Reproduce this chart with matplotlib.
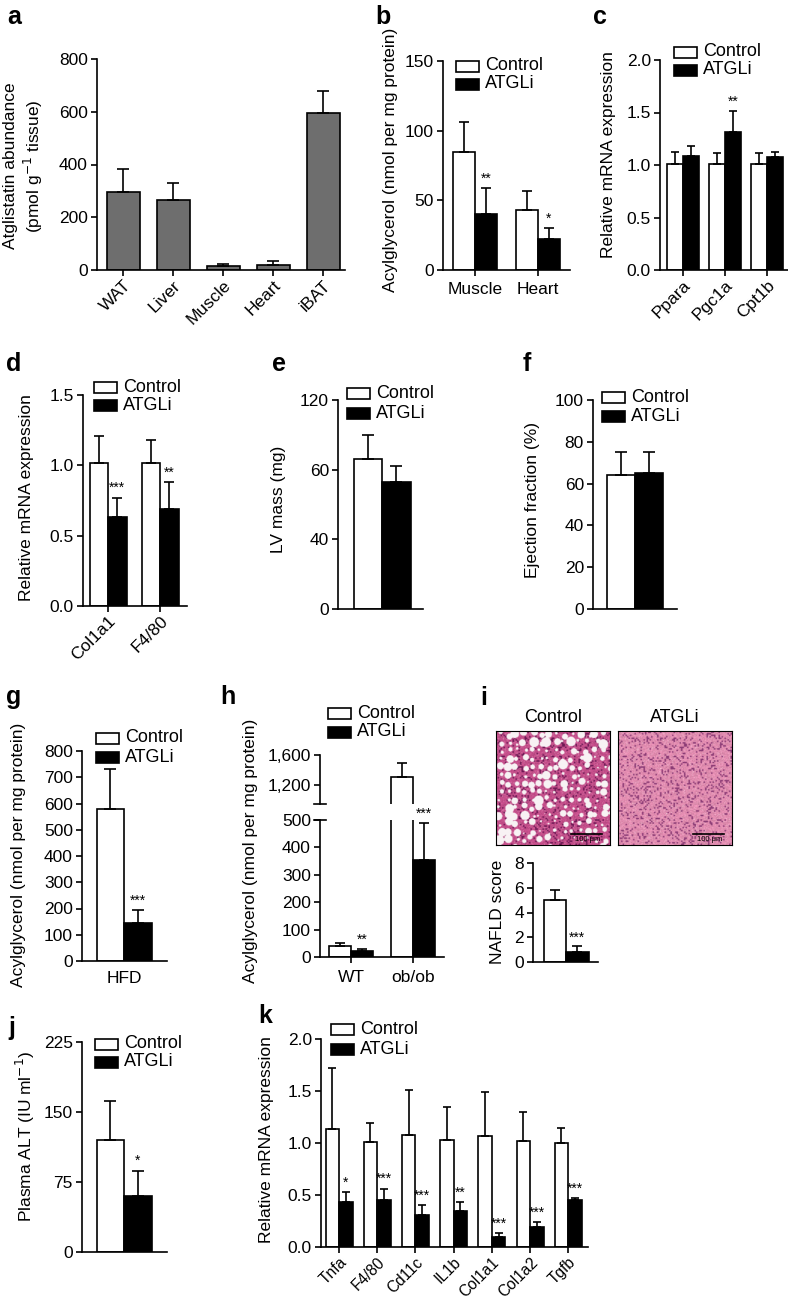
import numpy as np
import matplotlib
matplotlib.use('Agg')
import matplotlib.pyplot as plt
from matplotlib.patches import Rectangle

plt.rcParams['font.family'] = ['Liberation Sans', 'DejaVu Sans']

# ---- data ----
a_tissues = ['WAT', 'Liver', 'Muscle', 'Heart', 'iBAT']
a_mean = [296, 265, 15, 20, 595]
a_err = [87, 65, 8, 14, 82]

b_groups = ['Muscle', 'Heart']
b_ctrl = [85, 43]
b_ctrl_err = [21, 14]
b_atgl = [40, 22]
b_atgl_err = [19, 8]
b_sig = ['**', '*']

c_genes = ['Ppara', 'Pgc1a', 'Cpt1b']
c_ctrl = [1.01, 1.01, 1.01]
c_ctrl_err = [0.11, 0.10, 0.10]
c_atgl = [1.09, 1.31, 1.08]
c_atgl_err = [0.09, 0.20, 0.04]
c_sig = ['', '**', '']

d_genes = ['Col1a1', 'F4/80']
d_ctrl = [1.02, 1.02]
d_ctrl_err = [0.19, 0.16]
d_atgl = [0.63, 0.69]
d_atgl_err = [0.14, 0.19]
d_sig = ['***', '**']

# LV mass axis is drawn with evenly spaced ticks labelled 0, 40, 60, 120
e_ticks = [0, 40, 80, 120]
e_ticklabels = ['0', '40', '60', '120']
e_ctrl, e_ctrl_err = [86], [14]
e_atgl, e_atgl_err = [73], [9]

f_ctrl, f_ctrl_err = [64], [11]
f_atgl, f_atgl_err = [65], [10]

g_ctrl, g_ctrl_err = [580], [150]
g_atgl, g_atgl_err = [145], [50]
g_sig = ['***']

h_groups = ['WT', 'ob/ob']
h_ctrl = [40, 1310]
h_ctrl_err = [10, 185]
h_atgl = [22, 355]
h_atgl_err = [9, 135]
h_sig = ['**', '***']

i_ctrl, i_ctrl_err = [5.05], [0.8]
i_atgl, i_atgl_err = [0.8], [0.5]
i_sig = ['***']

j_ctrl, j_ctrl_err = [120], [42]
j_atgl, j_atgl_err = [60], [27]
j_sig = ['*']

k_genes = ['Tnfa', 'F4/80', 'Cd11c', 'IL1b', 'Col1a1', 'Col1a2', 'Tgfb']
k_ctrl = [1.13, 1.01, 1.08, 1.03, 1.07, 1.02, 1.00]
k_ctrl_err = [0.59, 0.18, 0.43, 0.32, 0.42, 0.28, 0.14]
k_atgl = [0.43, 0.45, 0.31, 0.35, 0.10, 0.19, 0.45]
k_atgl_err = [0.10, 0.11, 0.09, 0.08, 0.03, 0.05, 0.02]
k_sig = ['*', '***', '***', '**', '***', '***', '***']

W, H = 788, 1300
fig = plt.figure(figsize=(W / 100, H / 100), dpi=100)
LW = 1.2
FS = 12.5


def px_axes(x0, x1, ytop, ybot):
    ax = fig.add_axes([x0 / W, 1 - ybot / H, (x1 - x0) / W, (ybot - ytop) / H])
    ax.patch.set_alpha(0)
    for s in ['top', 'right']:
        ax.spines[s].set_visible(False)
    for s in ['left', 'bottom']:
        ax.spines[s].set_linewidth(LW)
    ax.tick_params(direction='out', length=4.5, width=LW, labelsize=FS, pad=2)
    return ax


def ftext(x, y, s, **kw):
    fig.text(x / W, 1 - y / H, s, **kw)


def ylab(x, y, s, fs=FS):
    ftext(x, y, s, rotation=90, ha='center', va='center', fontsize=fs)


def panel(x, y, s):
    ftext(x, y, s, fontsize=18, fontweight='bold', ha='center', va='center')


def legend_px(x, y, dy=18):
    for k, (lab, fc) in enumerate([('Control', 'white'), ('ATGLi', 'black')]):
        yc = y + k * dy
        fig.patches.append(Rectangle((x / W, 1 - (yc + 5.5) / H), 23 / W, 11 / H,
                                     transform=fig.transFigure, fc=fc, ec='k', lw=1.2))
        ftext(x + 29, yc, lab, ha='left', va='center', fontsize=13)


def pairs(ax, x0, x1, c0, sp, bar_px, ctrl, ctrl_err, atgl, atgl_err,
          sig=None, cap=3.5):
    pos = np.arange(len(ctrl))
    w = bar_px / sp
    ax.set_xlim((x0 - c0) / sp, (x1 - c0) / sp)
    for off, vals, errs, fc in [(-w / 2, ctrl, ctrl_err, 'white'),
                                (w / 2, atgl, atgl_err, 'black')]:
        ax.bar(pos + off, vals, w, color=fc, edgecolor='k', lw=LW, zorder=2)
        ax.errorbar(pos + off, vals, yerr=[np.zeros(len(vals)), errs], fmt='none',
                    ecolor='k', elinewidth=LW, capsize=cap, capthick=LW, zorder=3)
    if sig:
        yr = ax.get_ylim()
        d = (yr[1] - yr[0]) * 0.012
        for p, v, e, s in zip(pos, atgl, atgl_err, sig):
            if s:
                ax.text(p + w / 2, v + e + d, s, ha='center', va='bottom',
                        fontsize=10, clip_on=False)
    return pos


def rot_labels(ax, pos, labels, fs=FS):
    ax.set_xticks(pos)
    ax.set_xticklabels(labels, rotation=45, ha='right', rotation_mode='anchor',
                       fontsize=fs)
    ax.tick_params(axis='x', pad=1)


# ---- a ----
ax = px_axes(97, 345, 59, 270)
ax.set_ylim(0, 800)
ax.set_yticks([0, 200, 400, 600, 800])
ax.set_xlim((97 - 123) / 50, (345 - 123) / 50)
pos = np.arange(len(a_tissues))
ax.bar(pos, a_mean, 33 / 50, color='#6e6e6e', edgecolor='k', lw=LW, zorder=2)
ax.errorbar(pos, a_mean, yerr=[np.zeros(5), a_err], fmt='none', ecolor='k',
            elinewidth=LW, capsize=4.3, capthick=LW, zorder=3)
rot_labels(ax, pos, a_tissues)
panel(14, 17, 'a')
ylab(11, 166, 'Atglistatin abundance')
ylab(33, 166, '(pmol g$^{-1}$ tissue)')

# ---- b ----
ax = px_axes(443, 570, 61, 270)
ax.set_ylim(0, 150)
ax.set_yticks([0, 50, 100, 150])
pos = pairs(ax, 443, 570, 475, 63, 22, b_ctrl, b_ctrl_err, b_atgl, b_atgl_err, b_sig)
ax.set_xticks(pos)
ax.set_xticklabels(b_groups)
ax.tick_params(axis='x', pad=4)
panel(383, 17, 'b')
ylab(390, 160, 'Acylglycerol (nmol per mg protein)')
legend_px(456, 66)

# ---- c ----
ax = px_axes(660, 788, 60, 270)
ax.set_ylim(0, 2.0)
ax.set_yticks([0, 0.5, 1.0, 1.5, 2.0])
ax.set_yticklabels(['0.0', '0.5', '1.0', '1.5', '2.0'])
pos = pairs(ax, 660, 788, 683, 42, 16, c_ctrl, c_ctrl_err, c_atgl, c_atgl_err, c_sig, cap=3)
rot_labels(ax, pos, c_genes)
panel(600, 17, 'c')
ylab(609, 155, 'Relative mRNA expression')
legend_px(674, 52)

# ---- d ----
ax = px_axes(83, 187, 395, 606)
ax.set_ylim(0, 1.5)
ax.set_yticks([0, 0.5, 1.0, 1.5])
ax.set_yticklabels(['0.0', '0.5', '1.0', '1.5'])
pos = pairs(ax, 83, 187, 108, 52, 18.5, d_ctrl, d_ctrl_err, d_atgl, d_atgl_err, d_sig, cap=3.5)
rot_labels(ax, pos, d_genes)
panel(14, 364, 'd')
ylab(27, 498, 'Relative mRNA expression')
legend_px(94, 387)

# ---- e ----
ax = px_axes(338, 423, 400, 609)
ax.set_ylim(0, 120)
ax.set_yticks(e_ticks)
ax.set_yticklabels(e_ticklabels)
pairs(ax, 338, 423, 382, 60, 28.5, e_ctrl, e_ctrl_err, e_atgl, e_atgl_err, cap=4.3)
ax.set_xticks([])
panel(279, 364, 'e')
ylab(279, 499, 'LV mass (mg)')
legend_px(347, 393, dy=20)

# ---- f ----
ax = px_axes(593, 677, 400, 609)
ax.set_ylim(0, 100)
ax.set_yticks([0, 20, 40, 60, 80, 100])
pairs(ax, 593, 677, 635, 60, 28, f_ctrl, f_ctrl_err, f_atgl, f_atgl_err, cap=4.3)
ax.set_xticks([])
panel(527, 364, 'f')
ylab(533, 500, 'Ejection fraction (%)')
legend_px(602, 397, dy=19)

# ---- g ----
ax = px_axes(82, 167, 751, 961)
ax.set_ylim(0, 800)
ax.set_yticks(np.arange(0, 801, 100))
pos = pairs(ax, 82, 167, 124, 60, 27.5, g_ctrl, g_ctrl_err, g_atgl, g_atgl_err, g_sig, cap=4.3)
ax.set_xticks(pos)
ax.set_xticklabels(['HFD'])
ax.tick_params(axis='x', length=0, pad=7)
panel(14, 697, 'g')
ylab(19, 855, 'Acylglycerol (nmol per mg protein)')
legend_px(96, 738, dy=19)

# ---- h (broken axis) ----
axb = px_axes(320, 444, 820, 957)
axb.set_ylim(0, 500)
axb.set_yticks(np.arange(0, 501, 100))
pos = pairs(axb, 320, 444, 351, 62, 22, h_ctrl, h_ctrl_err, h_atgl, h_atgl_err, h_sig, cap=3.5)
axb.set_xticks(pos)
axb.set_xticklabels(h_groups)
axb.tick_params(axis='x', pad=5)
axt = px_axes(320, 444, 755, 804)
axt.set_ylim(950, 1600)
axt.set_yticks([1200, 1600])
axt.set_yticklabels(['1,200', '1,600'])
axt.spines['bottom'].set_visible(False)
pairs(axt, 320, 444, 351, 62, 22, h_ctrl, h_ctrl_err, h_atgl, h_atgl_err, cap=3.5)
axt.set_xticks([])
brk = 6 / 124
axt.plot([-brk, brk], [0, 0], color='k', lw=LW, transform=axt.transAxes, clip_on=False)
axb.plot([-brk, brk], [1, 1], color='k', lw=LW, transform=axb.transAxes, clip_on=False)
panel(228, 697, 'h')
ylab(251, 851, 'Acylglycerol (nmol per mg protein)')
legend_px(328, 713, dy=19)


# ---- i (histology + NAFLD score) ----
def hash2(a, b):
    v = np.sin(a * 12.9898 + b * 78.233) * 43758.5453
    return v - np.floor(v)


def tissue(n, fat):
    yy, xx = np.mgrid[0:n, 0:n].astype(float)
    fine = hash2(xx, yy)
    cell = hash2(np.floor(xx / 3), np.floor(yy / 3))
    if fat:
        base = np.array([196, 78, 138]) / 255
        dark = np.array([110, 25, 85]) / 255
        light = np.array([235, 170, 200]) / 255
    else:
        base = np.array([226, 140, 176]) / 255
        dark = np.array([140, 60, 118]) / 255
        light = np.array([246, 210, 225]) / 255
    img = base[None, None, :] * (0.85 + 0.3 * fine)[..., None]
    img[cell > 0.84] = dark
    img[(fine > 0.93) & (cell < 0.6)] = light
    if fat:
        g = 16
        m = n // g + 1
        for i in range(m):
            for j in range(m):
                h1, h2, h3 = hash2(i + 0.3, j + 1.7), hash2(i + 5.1, j + 2.2), hash2(i + 9.4, j + 3.3)
                cx = (i + 0.5) * g + (h1 - 0.5) * g * 0.6
                cy = (j + 0.5) * g + (h2 - 0.5) * g * 0.6
                r = g * (0.12 + 0.38 * h3 ** 1.5) * (1.25 if (i + j) < m else 0.9)
                mask = (xx - cx) ** 2 + (yy - cy) ** 2 < r * r
                img[mask] = np.array([248, 242, 244]) / 255
    return np.clip(img, 0, 1)


for x0, title, fat in [(496, 'Control', True), (618, 'ATGLi', False)]:
    axi = fig.add_axes([x0 / W, 1 - 845 / H, 114 / W, 114 / H])
    axi.imshow(tissue(228, fat), interpolation='bilinear', aspect='auto')
    axi.set_xticks([])
    axi.set_yticks([])
    for s in axi.spines.values():
        s.set_linewidth(0.8)
    axi.plot([0.66, 0.93], [0.1, 0.1], color='k', lw=1.2, transform=axi.transAxes)
    axi.text(0.8, 0.02, '100 \u03bcm', transform=axi.transAxes, fontsize=5.5,
             ha='center', va='bottom', color='k')
    ftext(x0 + 57, 718, title, ha='center', va='center', fontsize=13)

ax = px_axes(533, 598, 863, 962)
ax.set_ylim(0, 8)
ax.set_yticks([0, 2, 4, 6, 8])
pairs(ax, 533, 598, 566, 60, 22.5, i_ctrl, i_ctrl_err, i_atgl, i_atgl_err, i_sig, cap=3.5)
ax.set_xticks([])
panel(484, 698, 'i')
ylab(497, 912, 'NAFLD score')

# ---- j ----
ax = px_axes(82, 167, 1042, 1252)
ax.set_ylim(0, 225)
ax.set_yticks([0, 75, 150, 225])
pairs(ax, 82, 167, 124, 60, 27.5, j_ctrl, j_ctrl_err, j_atgl, j_atgl_err, j_sig, cap=4.3)
ax.set_xticks([])
panel(12, 1028, 'j')
ylab(25, 1136, 'Plasma ALT (IU ml$^{-1}$)')
legend_px(95, 1044, dy=18)

# ---- k ----
ax = px_axes(321, 588, 1039, 1247)
ax.set_ylim(0, 2.0)
ax.set_yticks([0, 0.5, 1.0, 1.5, 2.0])
ax.set_yticklabels(['0.0', '0.5', '1.0', '1.5', '2.0'])
pos = pairs(ax, 321, 588, 339, 38.2, 13.5, k_ctrl, k_ctrl_err, k_atgl, k_atgl_err, k_sig, cap=3)
rot_labels(ax, pos, k_genes, fs=11.2)
panel(265, 1016, 'k')
ylab(266, 1140, 'Relative mRNA expression')
legend_px(331, 1029, dy=20)

fig.savefig('out.png', dpi=100)
